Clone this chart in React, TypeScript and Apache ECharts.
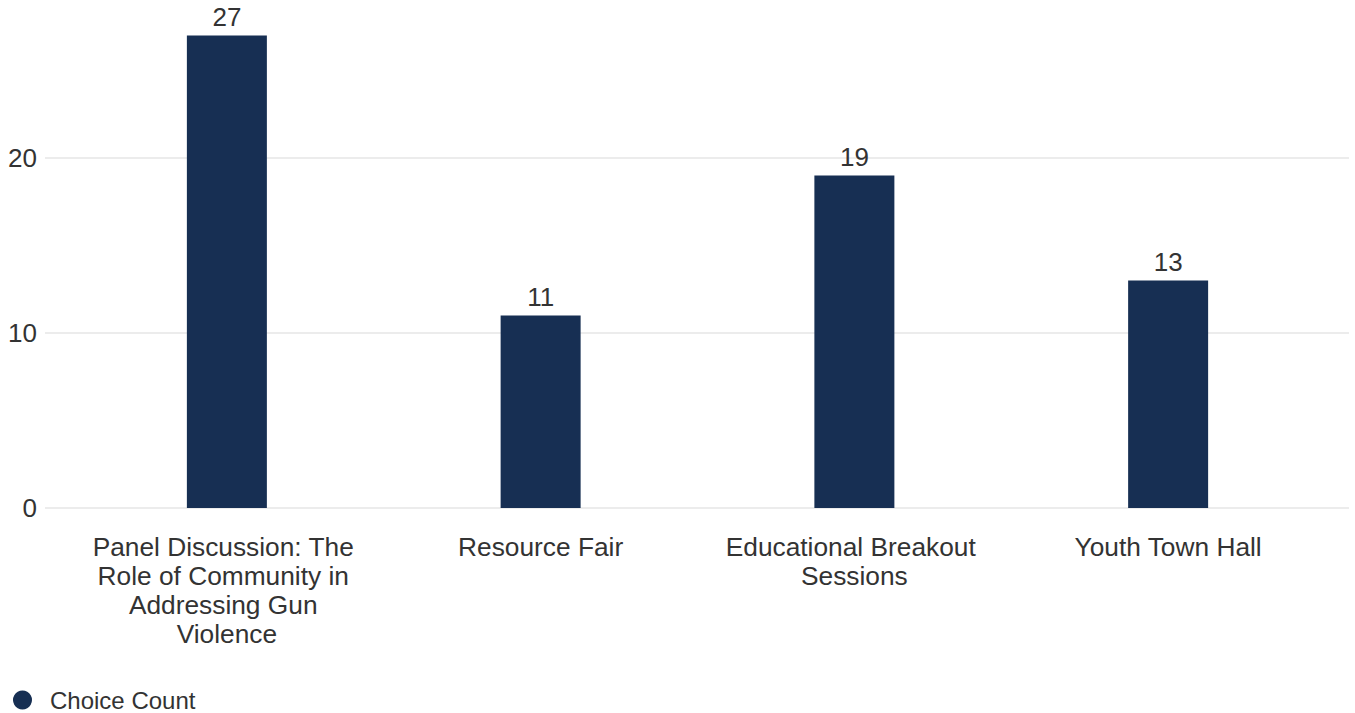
import React, { useEffect, useRef } from "react";
import * as echarts from "echarts";

const categories = [
  "Panel Discussion: The Role of Community in Addressing Gun Violence",
  "Resource Fair",
  "Educational Breakout Sessions",
  "Youth Town Hall",
];
const choiceCounts = [27, 11, 19, 13];
const seriesName = "Choice Count";
const yMax = 27;
const yInterval = 10;

const FONT = "'Liberation Sans', Arial, sans-serif";
const TEXT = "#333333";
const BAR = "#172f53";
const GRID_LINE = "#e6e6e6";

export default function App() {
  const ref = useRef<HTMLDivElement>(null);
  useEffect(() => {
    document.body.style.margin = "0";
    const chart = echarts.init(ref.current!, null, { renderer: "svg" });
    const gridTop = 35.5;
    const gridBottom = 205;
    chart.setOption({
      animation: false,
      textStyle: { fontFamily: FONT },
      grid: [
        { left: 70, right: 30, top: gridTop, bottom: gridBottom, containLabel: false },
        { left: 45, right: 6, top: gridTop, bottom: gridBottom, containLabel: false },
      ],
      xAxis: [
        {
          type: "category",
          gridIndex: 0,
          data: categories,
          axisLine: { show: false },
          axisTick: { show: false },
          axisLabel: {
            interval: 0,
            margin: 24,
            color: TEXT,
            fontSize: 26.3,
            lineHeight: 29,
            fontFamily: FONT,
            width: 285,
            overflow: "break",
            align: "center",
          },
        },
        { type: "value", gridIndex: 1, show: false, min: 0, max: 1 },
      ],
      yAxis: [
        {
          type: "value",
          gridIndex: 0,
          min: 0,
          max: yMax,
          interval: yInterval,
          show: false,
        },
        {
          type: "value",
          gridIndex: 1,
          min: 0,
          max: yMax,
          interval: yInterval,
          axisLine: { show: false },
          axisTick: { show: false },
          axisLabel: {
            showMaxLabel: false,
            margin: 8,
            color: TEXT,
            fontSize: 26,
            fontFamily: FONT,
          },
          splitLine: {
            show: true,
            showMaxLine: false,
            lineStyle: { color: GRID_LINE, width: 1.5 },
          },
        },
      ],
      legend: {
        left: 13,
        top: 688,
        padding: 0,
        icon: "circle",
        itemWidth: 19,
        itemHeight: 19,
        data: [seriesName],
        textStyle: {
          color: TEXT,
          fontSize: 24,
          lineHeight: 24,
          fontFamily: FONT,
          padding: [0, 0, 0, 13],
        },
      },
      series: [
        {
          name: seriesName,
          type: "bar",
          xAxisIndex: 0,
          yAxisIndex: 0,
          data: choiceCounts,
          barWidth: 80,
          itemStyle: { color: BAR },
          label: {
            show: true,
            position: "top",
            distance: 6,
            color: TEXT,
            fontSize: 26,
            fontFamily: FONT,
          },
        },
      ],
    });
    return () => chart.dispose();
  }, []);
  return <div ref={ref} style={{ width: 1355, height: 713 }} />;
}
